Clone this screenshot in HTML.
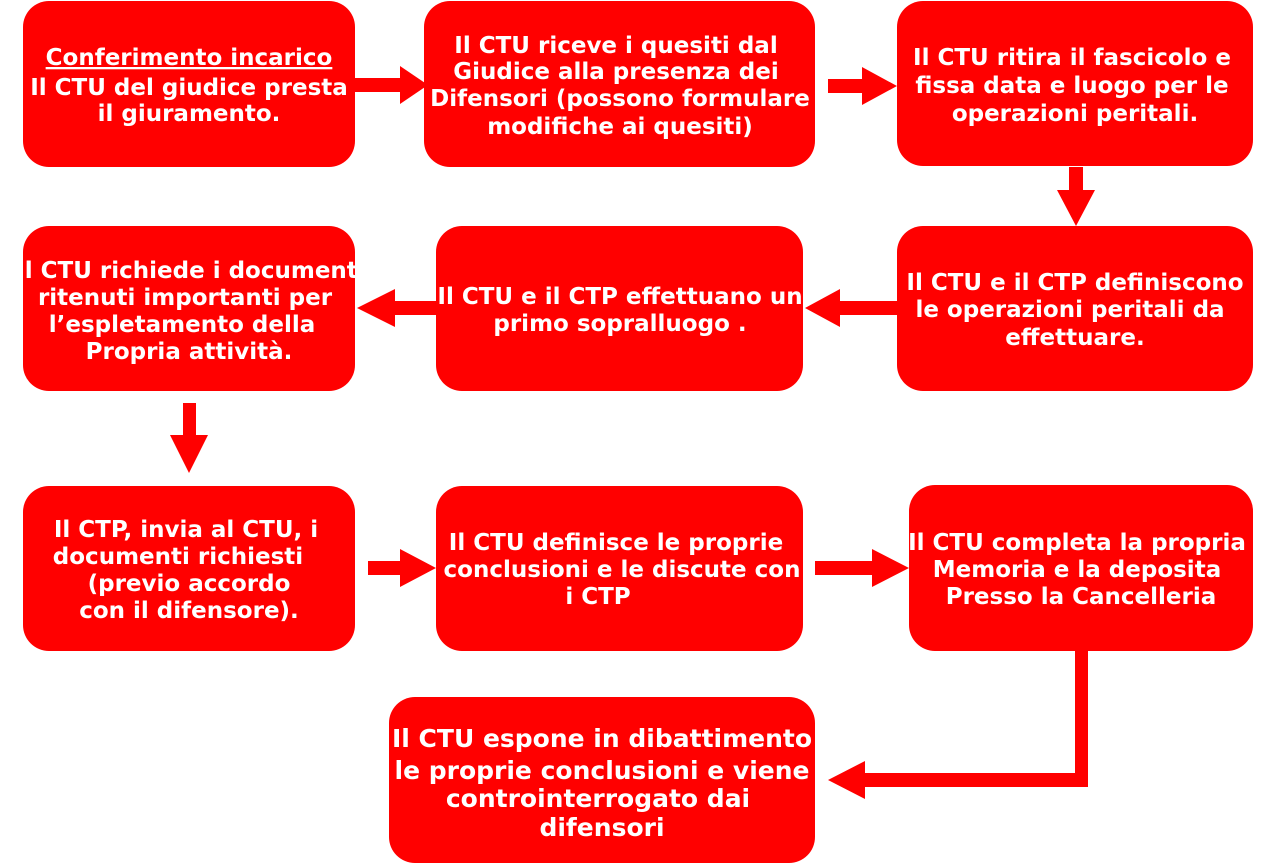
<!DOCTYPE html>
<html><head><meta charset="utf-8"><style>
html,body{margin:0;padding:0;background:#fff;width:1268px;height:865px;overflow:hidden}
svg{display:block}
text{font-family:"DejaVu Sans","Liberation Sans",sans-serif;font-weight:bold;font-size:23px;fill:#fff;text-anchor:middle}
text.big{font-size:25px}
</style></head><body>
<svg width="1268" height="865" viewBox="0 0 1268 865" xmlns="http://www.w3.org/2000/svg">
<g fill="#ff0000">
<rect x="23" y="1" width="332" height="166" rx="26"/>
<rect x="424" y="1" width="391" height="166" rx="26"/>
<rect x="897" y="1" width="356" height="165" rx="26"/>
<rect x="23" y="226" width="332" height="165" rx="26"/>
<rect x="436" y="226" width="367" height="165" rx="26"/>
<rect x="897" y="226" width="356" height="165" rx="26"/>
<rect x="23" y="486" width="332" height="165" rx="26"/>
<rect x="436" y="486" width="367" height="165" rx="26"/>
<rect x="909" y="485" width="344" height="166" rx="26"/>
<rect x="389" y="697" width="426" height="166" rx="26"/>
<polygon points="355,78 400,78 400,66 428,85 400,104 400,92 355,92"/>
<polygon points="828,79 862,79 862,67 897,86 862,105 862,93 828,93"/>
<polygon points="1069,167 1083,167 1083,190 1095,190 1076,226 1057,190 1069,190"/>
<polygon points="897,301 840,301 840,289 805,308 840,327 840,315 897,315"/>
<polygon points="436,301 395,301 395,289 357,308 395,327 395,315 436,315"/>
<polygon points="183,403 196,403 196,435 208,435 189,473 170,435 183,435"/>
<polygon points="368,561 400,561 400,549 436,568 400,587 400,575 368,575"/>
<polygon points="815,561 872,561 872,549 909,568 872,587 872,575 815,575"/>
<polygon points="1075,651 1088,651 1088,787 865,787 865,799 828,780 865,761 865,773 1075,773"/>
</g>
<text x="189" y="65" text-decoration="underline">Conferimento incarico</text>
<text x="189" y="95">Il CTU del giudice presta</text>
<text x="189" y="121">il giuramento.</text>
<text x="616" y="53">Il CTU riceve i quesiti dal</text>
<text x="616" y="79">Giudice alla presenza dei</text>
<text x="620" y="106">Difensori (possono formulare</text>
<text x="620" y="134">modifiche ai quesiti)</text>
<text x="1072" y="65">Il CTU ritira il fascicolo e</text>
<text x="1072" y="93">fissa data e luogo per le</text>
<text x="1075" y="121">operazioni peritali.</text>
<text x="187" y="278">Il CTU richiede i document</text>
<text x="185" y="305">ritenuti importanti per</text>
<text x="182" y="332">l’espletamento della</text>
<text x="189" y="359">Propria attività.</text>
<text x="620" y="304">Il CTU e il CTP effettuano un</text>
<text x="620" y="331">primo sopralluogo .</text>
<text x="1075" y="290">Il CTU e il CTP definiscono</text>
<text x="1070" y="317">le operazioni peritali da</text>
<text x="1075" y="345">effettuare.</text>
<text x="186" y="537">Il CTP,  invia al CTU, i</text>
<text x="178" y="564">documenti richiesti</text>
<text x="189" y="591">(previo accordo</text>
<text x="189" y="618">con il difensore).</text>
<text x="616" y="550">Il CTU definisce le proprie</text>
<text x="622" y="577">conclusioni e le discute con</text>
<text x="598" y="604">i CTP</text>
<text x="1077" y="550">Il CTU completa la propria</text>
<text x="1077" y="577">Memoria e la deposita</text>
<text x="1081" y="604">Presso la Cancelleria</text>
<text class="big" x="602" y="747">Il CTU espone in dibattimento</text>
<text class="big" x="602" y="779">le proprie conclusioni e viene</text>
<text class="big" x="598" y="807">controinterrogato dai</text>
<text class="big" x="602" y="836">difensori</text>
</svg>
</body></html>
